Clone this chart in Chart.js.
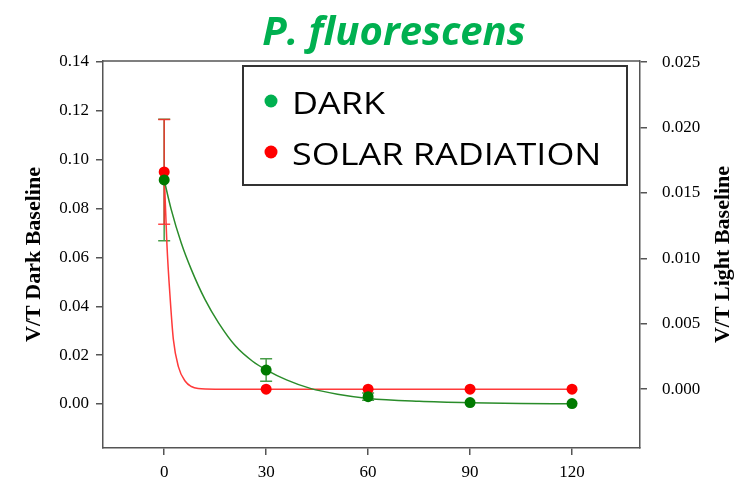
<!DOCTYPE html>
<html>
<head>
<meta charset="utf-8">
<script src="https://cdn.jsdelivr.net/npm/chart.js@4.4.1/dist/chart.umd.min.js"></script>
<style>
  html, body { margin: 0; padding: 0; background: #fff; }
  #wrap { width: 737px; height: 479px; }
</style>
</head>
<body>
<div id="wrap"><canvas id="myChart" width="737" height="479"></canvas></div>
<script>
// Sampling times (min)
const timePoints = [0, 30, 60, 90, 120];

// V/T in the dark (left axis) and under solar radiation (right axis)
const darkValues = [0.0917, 0.0139, 0.0030, 0.0006, 0.0002];
const darkErrors = [0.0249, 0.0046, 0.0015, 0, 0];
const solarValues = [0.0166, 0.0, 0.0, 0.0, 0.0];
const solarErrors = [0.0040, 0, 0, 0, 0];

// Fitted decay curves
const darkFitTimes = [0, 2, 5, 8, 12, 16, 21, 26, 30, 36, 43, 51, 60, 75, 90, 105, 120];
const darkFitValues = [0.0917, 0.0800, 0.0660, 0.0550, 0.0428, 0.0332, 0.0237, 0.0175, 0.0140, 0.0099, 0.0064, 0.0040, 0.0023, 0.0011, 0.0005, 0.0002, 0.0001];
const solarFitTimes = [0, 0.8, 1.8, 2.7, 4.2, 6.2, 8, 10, 15, 30, 60, 90, 120];
const solarFitValues = [0.0166, 0.0111, 0.0068, 0.0038, 0.0017, 0.0006, 0.0002, 0.00005, 0, 0, 0, 0, 0];

// Tick labels
const xTicks = [0, 30, 60, 90, 120];
const leftTicks = [0, 0.02, 0.04, 0.06, 0.08, 0.10, 0.12, 0.14];
const rightTicks = [0, 0.005, 0.010, 0.015, 0.020, 0.025];

const seriesLabels = ['DARK', 'SOLAR RADIATION'];
const legendColors = ['#00b050', '#ff0000'];

const toXY = (xs, ys) => xs.map((x, i) => ({ x: x, y: ys[i] }));
const axisColor = '#555555';
const tickFont = { family: 'Liberation Serif', size: 17 };

// Vertical error bars with caps, drawn under the markers
const errorBars = {
    id: 'errorBars',
    beforeDatasetsDraw(chart) {
        const ctx = chart.ctx;
        const xScale = chart.scales.x;
        chart.data.datasets.forEach(ds => {
            if (!ds.errors) return;
            const yScale = chart.scales[ds.yAxisID];
            ctx.save();
            ctx.strokeStyle = ds.errorColor;
            ctx.lineWidth = 1.5;
            ds.data.forEach((p, i) => {
                const err = ds.errors[i];
                if (!err) return;
                const px = xScale.getPixelForValue(p.x);
                const top = yScale.getPixelForValue(p.y + err);
                const bottom = yScale.getPixelForValue(p.y - err);
                ctx.beginPath();
                ctx.moveTo(px, top); ctx.lineTo(px, bottom);
                ctx.moveTo(px - 6, top); ctx.lineTo(px + 6, top);
                ctx.moveTo(px - 6, bottom); ctx.lineTo(px + 6, bottom);
                ctx.stroke();
            });
            ctx.restore();
        });
    }
};

// Title, top frame line, right axis title and boxed legend
const decorations = {
    id: 'decorations',
    afterDraw(chart) {
        const ctx = chart.ctx;
        const area = chart.chartArea;
        ctx.save();

        // top edge of the frame
        ctx.strokeStyle = axisColor;
        ctx.lineWidth = 1.5;
        ctx.beginPath();
        ctx.moveTo(area.left, area.top);
        ctx.lineTo(area.right, area.top);
        ctx.stroke();

        // species title
        ctx.fillStyle = '#00b050';
        ctx.font = 'italic bold 40px "Open Sans"';
        ctx.textAlign = 'center';
        ctx.textBaseline = 'alphabetic';
        ctx.fillText('P. fluorescens', 394, 45);

        // right axis title, reading bottom to top
        ctx.save();
        ctx.translate(723, (area.top + area.bottom) / 2);
        ctx.rotate(-Math.PI / 2);
        ctx.fillStyle = '#000';
        ctx.font = 'bold 22px "Liberation Serif"';
        ctx.textAlign = 'center';
        ctx.textBaseline = 'middle';
        ctx.fillText('V/T Light Baseline', 0, 0);
        ctx.restore();

        // legend box
        const bx = area.left + 140, by = area.top + 5;
        const bw = 384, bh = 119;
        ctx.fillStyle = '#fff';
        ctx.fillRect(bx, by, bw, bh);
        ctx.strokeStyle = '#333';
        ctx.lineWidth = 2;
        ctx.strokeRect(bx, by, bw, bh);

        seriesLabels.forEach((label, i) => {
            const cy = by + 35 + i * 51;
            ctx.fillStyle = legendColors[i];
            ctx.beginPath();
            ctx.arc(bx + 28, cy, 6.5, 0, Math.PI * 2);
            ctx.fill();
            ctx.save();
            ctx.translate(bx + 49, cy + 13);
            ctx.scale(1.16, 1);
            ctx.fillStyle = '#000';
            ctx.font = '31px "Open Sans"';
            ctx.textAlign = 'left';
            ctx.textBaseline = 'alphabetic';
            ctx.fillText(label, 0, 0);
            ctx.restore();
        });

        ctx.restore();
    }
};

const ctx = document.getElementById('myChart').getContext('2d');
const chart = new Chart(ctx, {
    type: 'line',
    data: {
        datasets: [
            {
                label: seriesLabels[0],
                data: toXY(timePoints, darkValues),
                yAxisID: 'y',
                showLine: false,
                pointRadius: 5.5,
                pointBackgroundColor: '#007a00',
                pointBorderColor: '#007a00',
                pointBorderWidth: 0,
                errors: darkErrors,
                errorColor: 'rgba(40, 140, 40, 0.85)'
            },
            {
                label: seriesLabels[1],
                data: toXY(timePoints, solarValues),
                yAxisID: 'y2',
                showLine: false,
                pointRadius: 5.5,
                pointBackgroundColor: '#ff0000',
                pointBorderColor: '#ff0000',
                pointBorderWidth: 0,
                errors: solarErrors,
                errorColor: 'rgba(255, 40, 40, 0.85)'
            },
            {
                label: 'dark fit',
                data: toXY(darkFitTimes, darkFitValues),
                yAxisID: 'y',
                pointRadius: 0,
                borderColor: '#2a8c2a',
                borderWidth: 1.5,
                cubicInterpolationMode: 'monotone'
            },
            {
                label: 'solar fit',
                data: toXY(solarFitTimes, solarFitValues),
                yAxisID: 'y2',
                pointRadius: 0,
                borderColor: '#ff3a3a',
                borderWidth: 1.5,
                cubicInterpolationMode: 'monotone'
            }
        ]
    },
    options: {
        responsive: false,
        animation: false,
        layout: { padding: { top: 61 } },
        plugins: {
            legend: { display: false },
            tooltip: { enabled: false }
        },
        scales: {
            x: {
                type: 'linear',
                min: -18,
                max: 140,
                afterBuildTicks: s => { s.ticks = xTicks.map(v => ({ value: v })); },
                afterFit: s => { s.height = 31; },
                ticks: { font: tickFont, color: '#000', padding: 7, maxRotation: 0 },
                grid: { drawOnChartArea: false, tickLength: 7, color: axisColor, lineWidth: 1.5 },
                border: { color: axisColor, width: 1.5 }
            },
            y: {
                position: 'left',
                min: -0.018,
                max: 0.1404,
                afterBuildTicks: s => { s.ticks = leftTicks.map(v => ({ value: v })); },
                afterFit: s => { s.width = 103; },
                ticks: { font: tickFont, color: '#000', padding: 7, callback: v => v.toFixed(2) },
                grid: { drawOnChartArea: false, tickLength: 7, color: axisColor, lineWidth: 1.5 },
                border: { color: axisColor, width: 1.5 },
                title: {
                    display: true,
                    text: 'V/T Dark Baseline',
                    color: '#000',
                    font: { family: 'Liberation Serif', size: 22, weight: 'bold' },
                    padding: { top: 21, bottom: 0 }
                }
            },
            y2: {
                position: 'right',
                min: -0.0045,
                max: 0.02508,
                afterBuildTicks: s => { s.ticks = rightTicks.map(v => ({ value: v })); },
                afterFit: s => { s.width = 97; },
                ticks: { font: tickFont, color: '#000', padding: 15, callback: v => v.toFixed(3) },
                grid: { drawOnChartArea: false, tickLength: 7, color: axisColor, lineWidth: 1.5 },
                border: { color: axisColor, width: 1.5 }
            }
        }
    },
    plugins: [errorBars, decorations]
});
</script>
</body>
</html>
